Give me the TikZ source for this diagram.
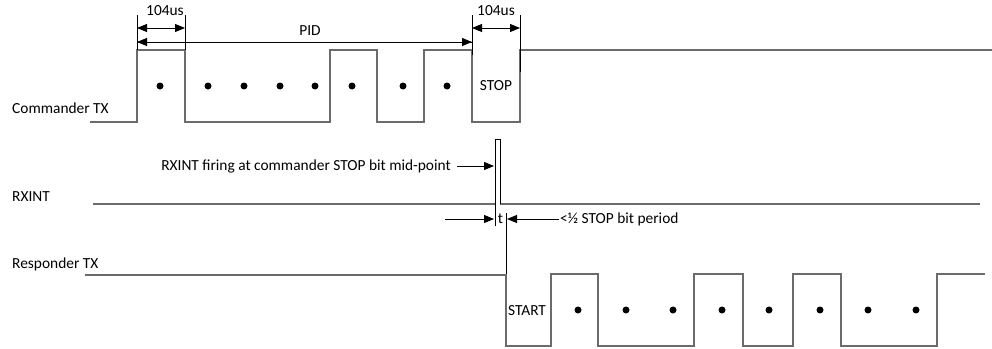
\documentclass[tikz,border=0pt]{standalone}
\usepackage{fontspec}
\setmainfont{Carlito}
\usetikzlibrary{arrows.meta}
\begin{document}
\begin{tikzpicture}[x=1pt, y=-1pt, font=\fontsize{15.4}{18}\selectfont, >={Triangle[length=10pt,width=8pt]},
          wave/.style={draw=black!58, line width=1.4pt, line join=miter},
          ext/.style={draw=black, line width=0.9pt},
          dim/.style={<->, ext},
          dimr/.style={->, ext},
          bit/.style={circle, fill=black, inner sep=0pt, minimum size=7pt},
          lbl/.style={inner sep=0pt, anchor=base west},
          tag/.style={inner sep=1pt}]
        \useasboundingbox (0,0) rectangle (992,348);
        % signal names
        \node[lbl] (cmd) at (12,113) {Commander TX};
        \node[lbl] (rxi) at (12,201) {RXINT};
        \node[lbl] (rsp) at (12,268) {Responder TX};
        % commander frame
        \draw[wave] (90,122) -- (137,122) -- (137,50) -- (185,50) -- (185,122) -- (330,122) -- (330,50)
          -- (377,50) -- (377,122) -- (424,122) -- (424,50) -- (472,50) -- (472,122) -- (520,122)
          -- (520,50) -- (992,50);
        \foreach \x in {160,208,244,280,315,352,403,447}
          \node[bit] at (\x,86) {};
        \node[tag] (stop) at (496,86) {STOP};
        % timing marks on commander
        \coordinate (a0) at (137,28);
        \coordinate (a1) at (185,28);
        \coordinate (b0) at (472,28);
        \coordinate (b1) at (520,28);
        \coordinate (p0) at (137,42);
        \coordinate (p1) at (472,42);
        \draw[ext] (137,15) -- (137,50);
        \draw[ext] (185,15) -- (185,50);
        \draw[ext] (472,15) -- (472,55);
        \draw[ext] (520,15) -- (520,72);
        \draw[dim] (a0) -- (a1);
        \draw[dim] (b0) -- (b1);
        \draw[ext, ->] (p1) -- (p0);
        \draw[ext, ->] (p0) -- (p1);
        \node[tag, anchor=base] (bw1) at (165,16) {104us};
        \node[tag, anchor=base] (bw2) at (496,16) {104us};
        \node[tag, anchor=base] (pid) at (310,35) {PID};
        % RXINT pulse
        \draw[wave] (93,204) -- (495,204);
        \draw[wave] (500,204) -- (980,204);
        \draw[ext] (495,226) -- (495,139) -- (500,139) -- (500,204);
        \node[tag, anchor=east] (fire) at (452,166) {RXINT firing at commander STOP bit mid-point};
        \coordinate (fhit) at (494,166);
        \draw[dimr] (fire.east) ++(5,0) coordinate (fbeg) (fbeg) -- (fhit);
        % delay t
        \node[tag] (t) at (500.5,219) {t};
        \coordinate (tl) at (445,219);
        \coordinate (tl1) at (494,219);
        \coordinate (tr1) at (507,219);
        \node[tag, anchor=west] (half) at (559,219) {<½ STOP bit period};
        \draw[dimr] (tl) -- (tl1);
        \draw[dimr] (half.west) -- (tr1);
        \draw[ext] (506,213) -- (506,275);
        % responder frame
        \draw[wave] (85,275) -- (506,275) -- (506,346) -- (551,346) -- (551,274) -- (598,274) -- (598,346)
          -- (694,346) -- (694,274) -- (743,274) -- (743,346) -- (793,346) -- (793,274) -- (841,274)
          -- (841,346) -- (937,346) -- (937,274) -- (985,274);
        \node[tag] (start) at (527,311) {START};
        \foreach \x in {578,626,673,722,769,820,868,916}
          \node[bit] at (\x,310) {};
      \end{tikzpicture}
\end{document}
